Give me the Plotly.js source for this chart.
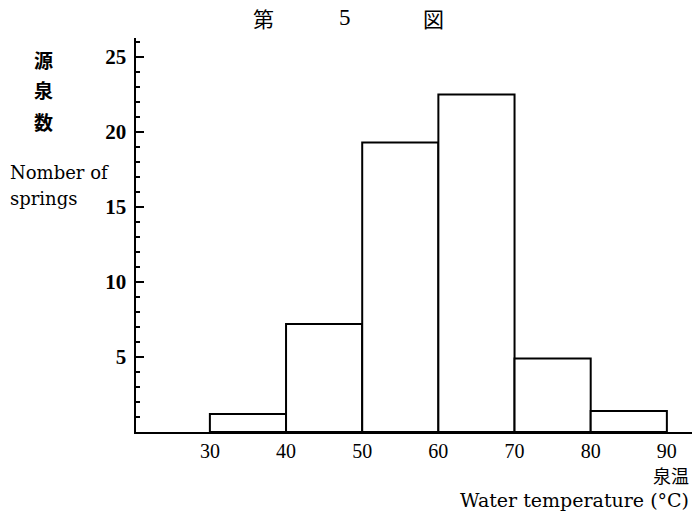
<!DOCTYPE html>
<html>
<head>
<meta charset="utf-8">
<script src="https://cdn.plot.ly/plotly-3.0.1.min.js"></script>
<style>
html,body{margin:0;padding:0;background:#fff;}
#chart{width:692px;height:514px;}
</style>
</head>
<body>
<div id="chart"></div>
<script>
// Data
const binStarts = [30, 40, 50, 60, 70, 80];
const binWidth = 10;
const counts = [1.2, 7.2, 19.3, 22.5, 4.9, 1.4];
const xTickVals = [30, 40, 50, 60, 70, 80, 90];
const yTickVals = [5, 10, 15, 20, 25];

const centers = binStarts.map(s => s + binWidth / 2);

// plot area geometry helpers (paper coords from pixels)
const L = 136, T = 38, W = 556, H = 394;
const px = x => (x - L) / W;
const py = y => (T + H - y) / H;

const serif = 'Liberation Serif, DejaVu Serif, serif';
const dserif = 'DejaVu Serif, serif';
const cjk = 'Noto Sans CJK JP, sans-serif';

const trace = {
  type: 'bar',
  x: centers,
  y: counts,
  width: binStarts.map(() => binWidth),
  marker: {color: '#ffffff', line: {color: '#000000', width: 2}},
  hoverinfo: 'skip'
};

const ann = (text, x, y, opts = {}) => Object.assign({
  text: text, xref: 'paper', yref: 'paper', x: px(x), y: py(y),
  showarrow: false, xanchor: 'center', yanchor: 'middle',
  font: {family: serif, size: 17, color: '#000'}
}, opts);

const layout = {
  width: 692, height: 514,
  margin: {l: L, r: 0, t: T, b: 514 - T - H, pad: 0},
  paper_bgcolor: '#fff', plot_bgcolor: '#fff',
  showlegend: false,
  bargap: 0,
  xaxis: {
    range: [20.3, 93.3],
    showline: true, linecolor: '#000', linewidth: 2,
    showgrid: false, zeroline: false,
    ticks: '', tickvals: xTickVals, ticktext: xTickVals.map(String),
    ticklabelstandoff: 0,
    tickfont: {family: serif, size: 20, color: '#000'},
    fixedrange: true
  },
  yaxis: {
    range: [0, 26.27],
    showline: true, linecolor: '#000', linewidth: 2.5,
    showgrid: false, zeroline: false,
    ticks: 'inside', ticklen: 8, tickwidth: 2.5, tickcolor: '#000',
    tickvals: yTickVals, ticktext: yTickVals.map(String),
    tickfont: {family: serif, size: 21, color: '#000', weight: 'bold'},
    ticklabelstandoff: 3,
    minor: {ticks: 'inside', ticklen: 4, tickwidth: 2, tickcolor: '#000', dtick: 1, tick0: 0, showgrid: false},
    fixedrange: true
  },
  annotations: [
    ann('第', 263, 18, {font: {family: cjk, size: 21, color: '#000'}}),
    ann('5', 345, 17, {font: {family: serif, size: 23, color: '#000'}}),
    ann('図', 433, 18, {font: {family: cjk, size: 21, color: '#000'}}),
    ann('源', 43, 59, {font: {family: cjk, size: 19, color: '#000', weight: 'bold'}}),
    ann('泉', 43, 90, {font: {family: cjk, size: 19, color: '#000', weight: 'bold'}}),
    ann('数', 43, 122, {font: {family: cjk, size: 19, color: '#000', weight: 'bold'}}),
    ann('Nomber of', 8, 172, {xanchor: 'left', font: {family: dserif, size: 18, color: '#000'}}),
    ann('springs', 8, 198, {xanchor: 'left', font: {family: dserif, size: 18, color: '#000'}}),
    ann('泉温', 691, 475, {xanchor: 'right', font: {family: cjk, size: 18, color: '#000'}}),
    ann('Water temperature (°C)', 691, 500, {xanchor: 'right', font: {family: dserif, size: 19, color: '#000'}})
  ]
};

Plotly.newPlot('chart', [trace], layout, {staticPlot: true, displayModeBar: false});
</script>
</body>
</html>
